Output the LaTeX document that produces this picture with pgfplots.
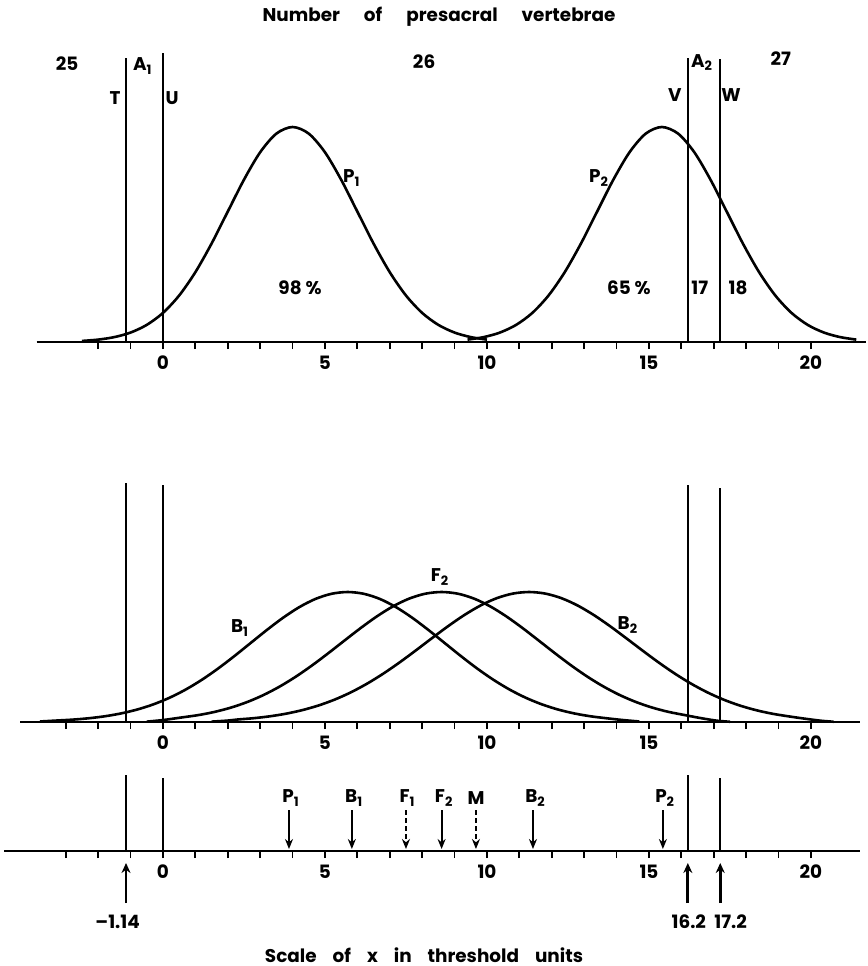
\documentclass[border=0pt]{standalone}
\usepackage{pgfplots}
\pgfplotsset{compat=1.18}
\usepackage{fontspec}
\setmainfont{Poppins}
\usetikzlibrary{arrows.meta}

% shared look of the three threshold scales (1 unit = 16.2bp)
\pgfplotsset{
  threshold/.style={
    x=16.2bp, clip=false, anchor=south west,
    axis x line*=bottom, axis y line=none,
    x axis line style={-, line width=1.1bp},
    tick align=outside, major tick length=3.5bp,
    tick style={line width=0.9bp, black},
    xtick={0,5,10,15,20}, ytick=\empty,
    extra x tick labels={},
    /pgf/number format/assume math mode=true,
    ymin=0,
  },
  curve/.style={black, line width=1.3bp, smooth, no markers},
  cut/.style={black, line width=0.9bp, no markers},
  down/.style={black, line width=1bp, no markers, -{Stealth[length=5bp,width=4bp]}},
  up/.style={black, line width=1.4bp, no markers, -{Stealth[length=5bp,width=4.5bp]}},
}

\begin{document}
\begin{tikzpicture}[font=\fontsize{9.2bp}{11bp}\selectfont\bfseries]
\useasboundingbox (0,0) rectangle (434bp,-483bp);

\node at (219.5bp,-8.5bp) {Number\hspace{12bp}of\hspace{12bp}presacral\hspace{12bp}vertebrae};
\node at (212bp,-477.5bp) {Scale\hspace{8bp}of\hspace{8bp}x\hspace{8bp}in\hspace{8bp}threshold\hspace{8bp}units};

% ---------------- top: P1 and P2 ----------------
\begin{axis}[threshold, at={(18.3bp,-171bp)}, xmin=-3.9, xmax=21.7, y=107.5bp, ymax=1.4,
  extra x ticks={-2,-1,1,2,3,4,6,7,8,9,11,12,13,14,16,17,18,19}]
  \addplot[curve] coordinates {
    (-2.5,0.0050) (-2.0,0.0111) (-1.5,0.0228) (-1.0,0.0439) (-0.5,0.0796) (0.0,0.1353) (0.5,0.2163)
    (1.0,0.3247) (1.5,0.4578) (2.0,0.6065) (2.5,0.7548) (3.0,0.8825)
    (3.5,0.9692) (4.0,1.0) (4.5,0.9692) (5.0,0.8825) (5.5,0.7548)
    (6.0,0.6065) (6.5,0.4578) (7.0,0.3247) (7.5,0.2163) (8.0,0.1353)
    (8.5,0.0796) (9.0,0.0439) (9.5,0.0228) (10.0,0.0111)};
  \addplot[curve] coordinates {
    (9.4,0.0111) (9.9,0.0228) (10.4,0.0439) (10.9,0.0796) (11.4,0.1353) (11.9,0.2163)
    (12.4,0.3247) (12.9,0.4578) (13.4,0.6065) (13.9,0.7548) (14.4,0.8825)
    (14.9,0.9692) (15.4,1.0) (15.9,0.9692) (16.4,0.8825) (16.9,0.7548)
    (17.4,0.6065) (17.9,0.4578) (18.4,0.3247) (18.9,0.2163) (19.4,0.1353)
    (19.9,0.0796) (20.4,0.0439) (20.9,0.0228) (21.4,0.0111)};
  \addplot[cut] coordinates {(-1.14,0) (-1.14,1.32)};
  \addplot[cut] coordinates {(0,0) (0,1.344)};
  \addplot[cut] coordinates {(16.2,0) (16.2,1.32)};
  \addplot[cut] coordinates {(17.2,0) (17.2,1.316)};
  \node at (axis cs:-2.96,1.293) {25};
  \node at (axis cs:-0.62,1.284) {A\textsubscript{1}};
  \node at (axis cs:8.06,1.302) {26};
  \node at (axis cs:16.64,1.30) {A\textsubscript{2}};
  \node at (axis cs:19.07,1.316) {27};
  \node at (axis cs:-1.48,1.135) {T};
  \node at (axis cs:0.28,1.135) {U};
  \node at (axis cs:15.8,1.149) {V};
  \node at (axis cs:17.53,1.149) {W};
  \node at (axis cs:5.83,0.763) {P\textsubscript{1}};
  \node at (axis cs:13.46,0.763) {P\textsubscript{2}};
  \node at (axis cs:4.23,0.251) {98 \%};
  \node at (axis cs:14.38,0.251) {65 \%};
  \node at (axis cs:16.57,0.251) {17};
  \node at (axis cs:17.75,0.251) {18};
\end{axis}

% ---------------- middle: B1, F2, B2 ----------------
\begin{axis}[threshold, at={(10.2bp,-361bp)}, xmin=-4.4, xmax=21.5, y=65bp, ymax=1.9,
  extra x ticks={-3,-2,-1,1,2,3,4,6,7,8,9,11,12,13,14,16,17,18,19}]
  \addplot[curve] coordinates {
    (-3.8,0.004) (-3.3,0.0111) (-2.8,0.0181) (-2.3,0.0286) (-1.8,0.0439) (-1.3,0.0657)
    (-0.8,0.0956) (-0.3,0.1353) (0.2,0.1863) (0.7,0.2494) (1.2,0.3247)
    (1.7,0.4111) (2.2,0.5063) (2.7,0.6065) (3.2,0.7066) (3.7,0.8007)
    (4.2,0.8825) (4.7,0.9460) (5.2,0.9862) (5.7,1.0) (6.2,0.9862)
    (6.7,0.9460) (7.2,0.8825) (7.7,0.8007) (8.2,0.7066) (8.7,0.6065)
    (9.2,0.5063) (9.7,0.4111) (10.2,0.3247) (10.7,0.2494) (11.2,0.1863)
    (11.7,0.1353) (12.2,0.0956) (12.7,0.0657) (13.2,0.0439) (13.7,0.0286)
    (14.2,0.0150) (14.7,0.004)};
  \addplot[curve] coordinates {
    (-0.5,0.003) (0.0,0.0150) (0.6,0.0358) (1.1,0.0536) (1.6,0.0781) (2.1,0.1110)
    (2.6,0.1537) (3.1,0.2072) (3.6,0.2724) (4.1,0.3487) (4.6,0.4350)
    (5.1,0.5287) (5.6,0.6261) (6.1,0.7224) (6.6,0.8121) (7.1,0.8895)
    (7.6,0.9493) (8.1,0.9871) (8.6,1.0) (9.1,0.9871) (9.6,0.9493)
    (10.1,0.8895) (10.6,0.8121) (11.1,0.7224) (11.6,0.6261) (12.1,0.5287)
    (12.6,0.4350) (13.1,0.3487) (13.6,0.2724) (14.1,0.2072) (14.6,0.1537)
    (15.1,0.1110) (15.6,0.0781) (16.1,0.0536) (16.6,0.0300) (17.1,0.010) (17.5,0.002)};
  \addplot[curve] coordinates {
    (1.5,0.003) (2.0,0.0110) (2.3,0.0192) (2.8,0.0294) (3.3,0.0439) (3.8,0.0641)
    (4.3,0.0914) (4.8,0.1271) (5.3,0.1724) (5.8,0.2283) (6.3,0.2950)
    (6.8,0.3720) (7.3,0.4578) (7.8,0.5499) (8.3,0.6444) (8.8,0.7370)
    (9.3,0.8226) (9.8,0.8960) (10.3,0.9524) (10.8,0.9879) (11.3,1.0)
    (11.8,0.9879) (12.3,0.9524) (12.8,0.8960) (13.3,0.8226) (13.8,0.7370)
    (14.3,0.6444) (14.8,0.5499) (15.3,0.4578) (15.8,0.3720) (16.3,0.2950)
    (16.8,0.2283) (17.3,0.1724) (17.8,0.1271) (18.3,0.0914) (18.8,0.0641)
    (19.3,0.0439) (19.8,0.0260) (20.3,0.010) (20.7,0.002)};
  \addplot[cut] coordinates {(-1.14,0) (-1.14,1.838)};
  \addplot[cut] coordinates {(0,0) (0,1.823)};
  \addplot[cut] coordinates {(16.2,0) (16.2,1.823)};
  \addplot[cut] coordinates {(17.2,0) (17.2,1.80)};
  \node at (axis cs:2.38,0.723) {B\textsubscript{1}};
  \node at (axis cs:8.55,1.115) {F\textsubscript{2}};
  \node at (axis cs:14.35,0.746) {B\textsubscript{2}};
\end{axis}

% ---------------- bottom: positions of the means ----------------
\begin{axis}[threshold, at={(2.1bp,-425.5bp)}, xmin=-4.9, xmax=21.5, y=50bp, ymax=0.8,
  extra x ticks={-3,-2,-1,1,2,3,4,6,7,8,9,11,12,13,14,16,17,18,19}]
  \addplot[cut, line width=1.2bp] coordinates {(-1.14,0) (-1.14,0.76)};
  \addplot[cut] coordinates {(0,0) (0,0.73)};
  \addplot[cut, line width=1.2bp] coordinates {(16.2,0) (16.2,0.76)};
  \addplot[cut] coordinates {(17.2,0) (17.2,0.73)};
  \addplot[down] coordinates {(3.89,0.41) (3.89,0.02)};
  \addplot[down] coordinates {(5.83,0.41) (5.83,0.02)};
  \addplot[down, dash pattern=on 2.5bp off 1.5bp] coordinates {(7.5,0.41) (7.5,0.02)};
  \addplot[down] coordinates {(8.6,0.41) (8.6,0.02)};
  \addplot[down, dash pattern=on 2.5bp off 1.5bp] coordinates {(9.66,0.41) (9.66,0.02)};
  \addplot[down] coordinates {(11.42,0.41) (11.42,0.02)};
  \addplot[down] coordinates {(15.43,0.41) (15.43,0.02)};
  \addplot[up] coordinates {(-1.14,-0.52) (-1.14,-0.12)};
  \addplot[up] coordinates {(16.2,-0.52) (16.2,-0.12)};
  \addplot[up] coordinates {(17.2,-0.52) (17.2,-0.12)};
  \node at (axis cs:3.95,0.53) {P\textsubscript{1}};
  \node at (axis cs:5.9,0.53) {B\textsubscript{1}};
  \node at (axis cs:7.55,0.53) {F\textsubscript{1}};
  \node at (axis cs:8.68,0.53) {F\textsubscript{2}};
  \node at (axis cs:9.66,0.53) {M};
  \node at (axis cs:11.5,0.53) {B\textsubscript{2}};
  \node at (axis cs:15.5,0.53) {P\textsubscript{2}};
  \node at (axis cs:-1.4,-0.71) {–1.14};
  \node at (axis cs:16.23,-0.71) {16.2};
  \node at (axis cs:17.52,-0.71) {17.2};
\end{axis}
\end{tikzpicture}
\end{document}
